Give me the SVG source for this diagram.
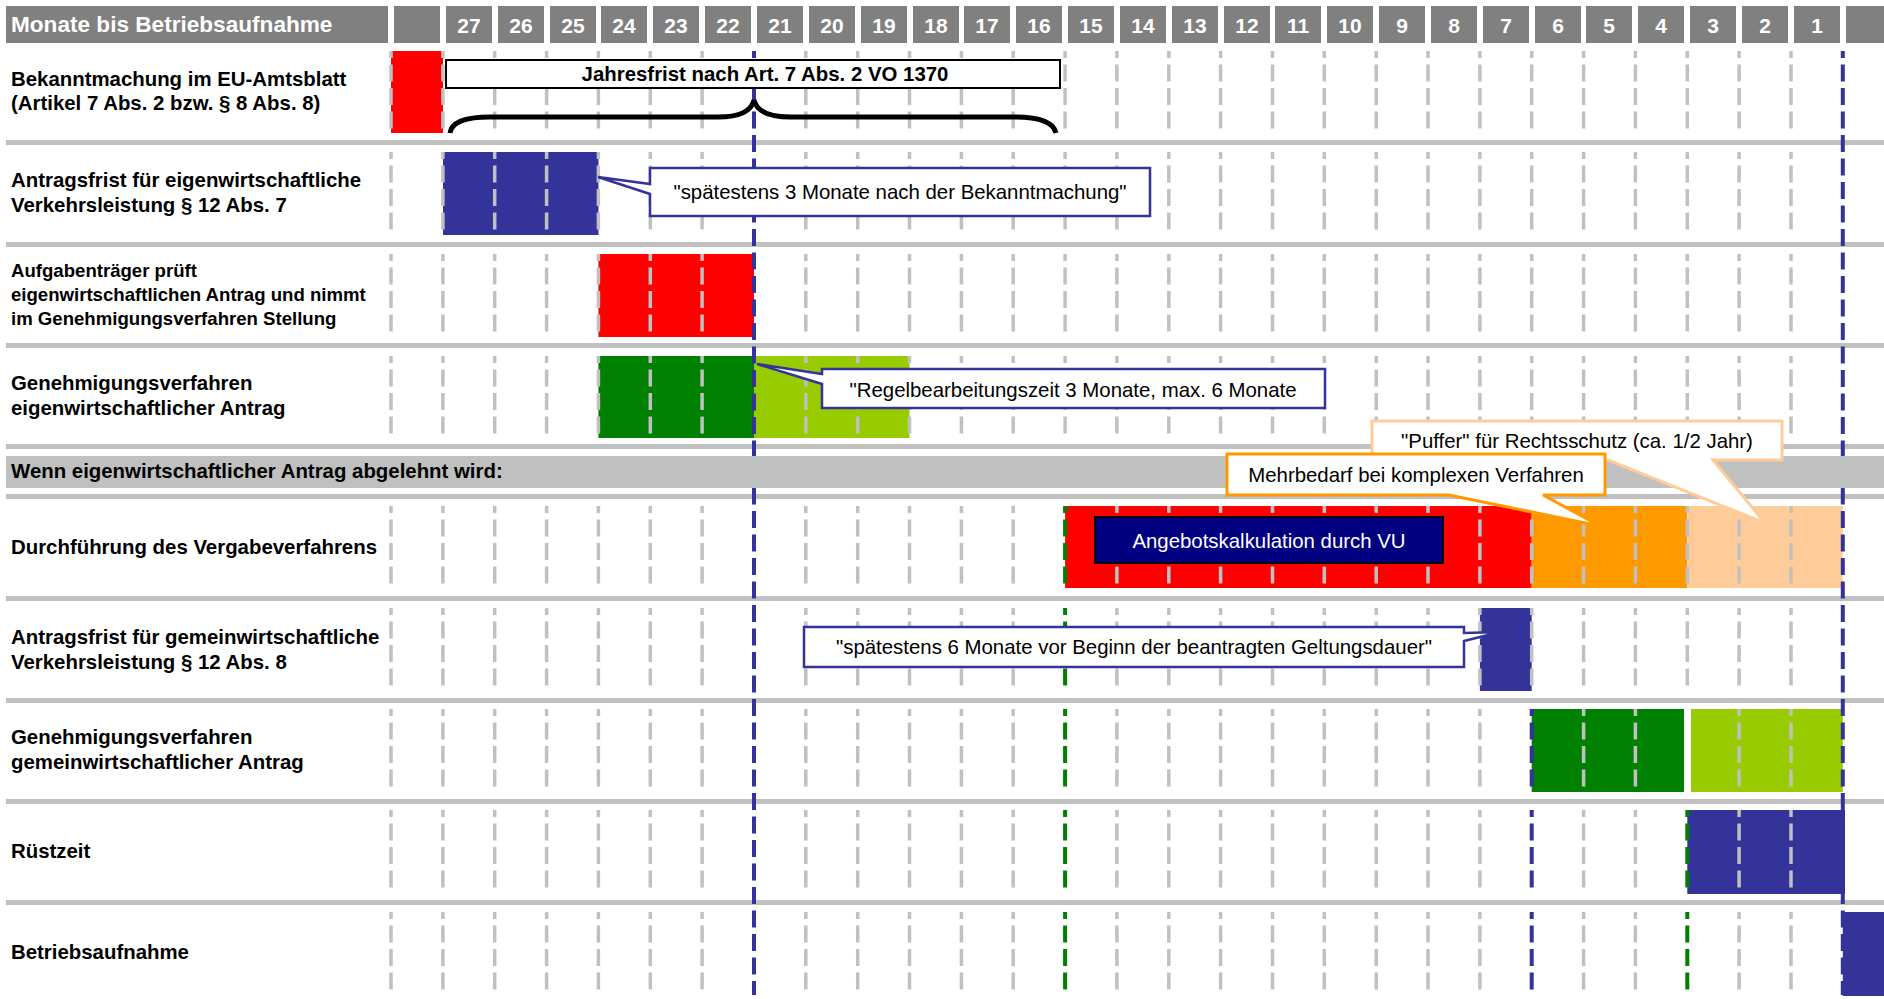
<svg xmlns="http://www.w3.org/2000/svg" xmlns:xlink="http://www.w3.org/1999/xlink" width="1884" height="999" viewBox="0 0 1884 999">
<style>
.hc{fill:#808080}
.hn{fill:#ffffff;font-family:"Liberation Sans",Arial,sans-serif;font-weight:bold;font-size:21px;text-anchor:middle}
.ht{fill:#ffffff;font-family:"Liberation Sans",Arial,sans-serif;font-weight:bold;font-size:22.6px}
.sep{fill:#c0c0c0}
.lbl{fill:#000000;font-family:"Liberation Sans",Arial,sans-serif;font-weight:bold;font-size:20.4px}
.lbs{fill:#000000;font-family:"Liberation Sans",Arial,sans-serif;font-weight:bold;font-size:18.6px}
.ct{fill:#000000;font-family:"Liberation Sans",Arial,sans-serif;font-size:20.4px;text-anchor:middle}
.gd{fill:none;stroke:#c0c0c0;stroke-width:3.5;stroke-dasharray:17 6.5;stroke-dashoffset:10}
.bd{fill:none;stroke:#333399;stroke-width:4;stroke-dasharray:17 6.5;stroke-dashoffset:10}
.gn{fill:none;stroke:#008000;stroke-width:4;stroke-dasharray:17 6.5;stroke-dashoffset:10}
.cb{fill:#ffffff;stroke:#333399;stroke-width:2.5}
</style>
<defs>
<path id="gA" d="M391 0v83M442.9 0v83M494.7 0v83M546.6 0v83M598.4 0v83M650.3 0v83M702.1 0v83M805.8 0v83M857.7 0v83M909.5 0v83M961.4 0v83M1013.2 0v83M1116.9 0v83M1168.8 0v83M1220.6 0v83M1272.5 0v83M1324.3 0v83M1376.2 0v83M1428 0v83M1479.9 0v83M1583.6 0v83M1635.4 0v83M1739.1 0v83M1791 0v83"/>
<path id="g13" d="M1065.1 0v83"/>
<path id="g22" d="M1531.7 0v83"/>
<path id="g25" d="M1687.3 0v83"/>
</defs>
<rect width="1884" height="999" fill="#ffffff"/>

<g id="header">
<rect class="hc" x="6" y="6" width="382" height="37"/>
<text class="ht" x="11" y="32">Monate bis Betriebsaufnahme</text>
<rect class="hc" x="394" y="6" width="46" height="37"/>
<rect class="hc" x="446" y="6" width="46" height="37"/><text class="hn" x="469" y="33">27</text>
<rect class="hc" x="498" y="6" width="46" height="37"/><text class="hn" x="521" y="33">26</text>
<rect class="hc" x="550" y="6" width="46" height="37"/><text class="hn" x="573" y="33">25</text>
<rect class="hc" x="601" y="6" width="46" height="37"/><text class="hn" x="624" y="33">24</text>
<rect class="hc" x="653" y="6" width="46" height="37"/><text class="hn" x="676" y="33">23</text>
<rect class="hc" x="705" y="6" width="46" height="37"/><text class="hn" x="728" y="33">22</text>
<rect class="hc" x="757" y="6" width="46" height="37"/><text class="hn" x="780" y="33">21</text>
<rect class="hc" x="809" y="6" width="46" height="37"/><text class="hn" x="832" y="33">20</text>
<rect class="hc" x="861" y="6" width="46" height="37"/><text class="hn" x="884" y="33">19</text>
<rect class="hc" x="913" y="6" width="46" height="37"/><text class="hn" x="936" y="33">18</text>
<rect class="hc" x="964" y="6" width="46" height="37"/><text class="hn" x="987" y="33">17</text>
<rect class="hc" x="1016" y="6" width="46" height="37"/><text class="hn" x="1039" y="33">16</text>
<rect class="hc" x="1068" y="6" width="46" height="37"/><text class="hn" x="1091" y="33">15</text>
<rect class="hc" x="1120" y="6" width="46" height="37"/><text class="hn" x="1143" y="33">14</text>
<rect class="hc" x="1172" y="6" width="46" height="37"/><text class="hn" x="1195" y="33">13</text>
<rect class="hc" x="1224" y="6" width="46" height="37"/><text class="hn" x="1247" y="33">12</text>
<rect class="hc" x="1275" y="6" width="46" height="37"/><text class="hn" x="1298" y="33">11</text>
<rect class="hc" x="1327" y="6" width="46" height="37"/><text class="hn" x="1350" y="33">10</text>
<rect class="hc" x="1379" y="6" width="46" height="37"/><text class="hn" x="1402" y="33">9</text>
<rect class="hc" x="1431" y="6" width="46" height="37"/><text class="hn" x="1454" y="33">8</text>
<rect class="hc" x="1483" y="6" width="46" height="37"/><text class="hn" x="1506" y="33">7</text>
<rect class="hc" x="1535" y="6" width="46" height="37"/><text class="hn" x="1558" y="33">6</text>
<rect class="hc" x="1586" y="6" width="46" height="37"/><text class="hn" x="1609" y="33">5</text>
<rect class="hc" x="1638" y="6" width="46" height="37"/><text class="hn" x="1661" y="33">4</text>
<rect class="hc" x="1690" y="6" width="46" height="37"/><text class="hn" x="1713" y="33">3</text>
<rect class="hc" x="1742" y="6" width="46" height="37"/><text class="hn" x="1765" y="33">2</text>
<rect class="hc" x="1794" y="6" width="46" height="37"/><text class="hn" x="1817" y="33">1</text>
<rect class="hc" x="1846" y="6" width="46" height="37"/>
</g>

<g id="separators">
<rect class="sep" x="6" y="140" width="1878" height="5"/>
<rect class="sep" x="6" y="242" width="1878" height="5"/>
<rect class="sep" x="6" y="343" width="1878" height="5"/>
<rect class="sep" x="6" y="444" width="1878" height="5"/>
<rect class="sep" x="6" y="494" width="1878" height="5"/>
<rect class="sep" x="6" y="596" width="1878" height="5"/>
<rect class="sep" x="6" y="698" width="1878" height="5"/>
<rect class="sep" x="6" y="799" width="1878" height="5"/>
<rect class="sep" x="6" y="900" width="1878" height="5"/>
</g>

<g id="bars">
<rect x="391" y="51" width="52" height="82" fill="#ff0000"/>
<rect x="443" y="152" width="155.5" height="83" fill="#333399"/>
<rect x="598.4" y="254" width="155.6" height="83" fill="#ff0000"/>
<rect x="598.4" y="356" width="155.6" height="82" fill="#008000"/>
<rect x="754" y="356" width="155.5" height="82" fill="#99cc00"/>
<rect x="1065.1" y="506" width="466.6" height="82" fill="#ff0000"/>
<rect x="1531.7" y="506" width="155.6" height="82" fill="#ff9900"/>
<rect x="1687.3" y="506" width="155.5" height="82" fill="#ffcc99"/>
<rect x="1479.9" y="608" width="51.8" height="83" fill="#333399"/>
<rect x="1531.7" y="709" width="152.3" height="83" fill="#008000"/>
<rect x="1691" y="709" width="151.8" height="83" fill="#99cc00"/>
<rect x="1687.3" y="810" width="157.7" height="84" fill="#333399"/>
<rect x="1842.8" y="912" width="42" height="84" fill="#333399"/>
</g>

<g id="grid">
<use href="#gA" y="51" class="gd"/><use href="#g13" y="51" class="gd"/><use href="#g22" y="51" class="gd"/><use href="#g25" y="51" class="gd"/>
<use href="#gA" y="152" class="gd"/><use href="#g13" y="152" class="gd"/><use href="#g22" y="152" class="gd"/><use href="#g25" y="152" class="gd"/>
<use href="#gA" y="254" class="gd"/><use href="#g13" y="254" class="gd"/><use href="#g22" y="254" class="gd"/><use href="#g25" y="254" class="gd"/>
<use href="#gA" y="356" class="gd"/><use href="#g13" y="356" class="gd"/><use href="#g22" y="356" class="gd"/><use href="#g25" y="356" class="gd"/>
<use href="#gA" y="506" class="gd"/><use href="#g13" y="506" class="gn"/><use href="#g22" y="506" class="gd"/><use href="#g25" y="506" class="gd"/>
<use href="#gA" y="608" class="gd"/><use href="#g13" y="608" class="gn"/><use href="#g22" y="608" class="gd"/><use href="#g25" y="608" class="gd"/>
<use href="#gA" y="709" class="gd"/><use href="#g13" y="709" class="gn"/><use href="#g22" y="709" class="bd"/>
<use href="#gA" y="810" class="gd"/><use href="#g13" y="810" class="gn"/><use href="#g22" y="810" class="bd"/><use href="#g25" y="810" class="gn"/>
<use href="#gA" y="912" class="gd"/><use href="#g13" y="912" class="gn"/><use href="#g22" y="912" class="bd"/><use href="#g25" y="912" class="gn"/>
<path class="bd" d="M754 51V995M1842.8 51V995"/>
</g>

<g id="section-band">
<rect x="6" y="456" width="1878" height="32" fill="#c0c0c0"/>
<text class="lbl" x="11" y="478">Wenn eigenwirtschaftlicher Antrag abgelehnt wird:</text>
</g>

<g id="labels">
<text class="lbl" x="11" y="86">Bekanntmachung im EU-Amtsblatt</text>
<text class="lbl" x="11" y="110">(Artikel 7 Abs. 2 bzw. § 8 Abs. 8)</text>
<text class="lbl" x="11" y="187">Antragsfrist für eigenwirtschaftliche</text>
<text class="lbl" x="11" y="212">Verkehrsleistung § 12 Abs. 7</text>
<text class="lbs" x="11" y="277">Aufgabenträger prüft</text>
<text class="lbs" x="11" y="301">eigenwirtschaftlichen Antrag und nimmt</text>
<text class="lbs" x="11" y="325">im Genehmigungsverfahren Stellung</text>
<text class="lbl" x="11" y="390">Genehmigungsverfahren</text>
<text class="lbl" x="11" y="415">eigenwirtschaftlicher Antrag</text>
<text class="lbl" x="11" y="554">Durchführung des Vergabeverfahrens</text>
<text class="lbl" x="11" y="644">Antragsfrist für gemeinwirtschaftliche</text>
<text class="lbl" x="11" y="669">Verkehrsleistung § 12 Abs. 8</text>
<text class="lbl" x="11" y="744">Genehmigungsverfahren</text>
<text class="lbl" x="11" y="769">gemeinwirtschaftlicher Antrag</text>
<text class="lbl" x="11" y="858">Rüstzeit</text>
<text class="lbl" x="11" y="959">Betriebsaufnahme</text>
</g>

<g id="jahresfrist">
<rect x="446" y="60" width="614" height="28" fill="#ffffff" stroke="#000000" stroke-width="2"/>
<text class="lbl" x="765" y="81" text-anchor="middle">Jahresfrist nach Art. 7 Abs. 2 VO 1370</text>
</g>

<g id="connectors">
<path d="M450 133Q452 117 490 117L718 117Q750 117 754 100Q758 117 790 117L1015 117Q1052 117 1056 133" fill="none" stroke="#000000" stroke-width="5"/>
</g>

<g id="callout-antragsfrist-eigen">
<path class="cb" d="M650 168H1150V216H650V194L598 177L650 184Z"/>
<text class="ct" x="900" y="199">"spätestens 3 Monate nach der Bekanntmachung"</text>
</g>

<g id="callout-regel">
<path class="cb" d="M822 369H1325V408H822V384L757 364L822 374Z"/>
<text class="ct" x="1073" y="397">"Regelbearbeitungszeit 3 Monate, max. 6 Monate</text>
</g>

<g id="angebot">
<rect x="1095" y="517" width="348" height="46" fill="#000080" stroke="#000000" stroke-width="2"/>
<text class="ct" x="1269" y="548" style="fill:#ffffff">Angebotskalkulation durch VU</text>
</g>

<g id="callout-puffer">
<path d="M1372 421H1782V460H1713L1765 523L1608 460H1372Z" fill="#ffffff" stroke="#ffcc99" stroke-width="3"/>
<text class="ct" x="1577" y="448">"Puffer" für Rechtsschutz (ca. 1/2 Jahr)</text>
</g>

<g id="callout-mehrbedarf">
<path d="M1227 454H1605V495H1543L1600 526L1449 495H1227Z" fill="#ffffff" stroke="#ff9900" stroke-width="3"/>
<text class="ct" x="1416" y="482">Mehrbedarf bei komplexen Verfahren</text>
</g>

<g id="callout-antragsfrist-gemein">
<path class="cb" d="M804 627H1464V633L1500 632L1464 641V667H804Z"/>
<text class="ct" x="1134" y="654">"spätestens 6 Monate vor Beginn der beantragten Geltungsdauer"</text>
</g>
</svg>
